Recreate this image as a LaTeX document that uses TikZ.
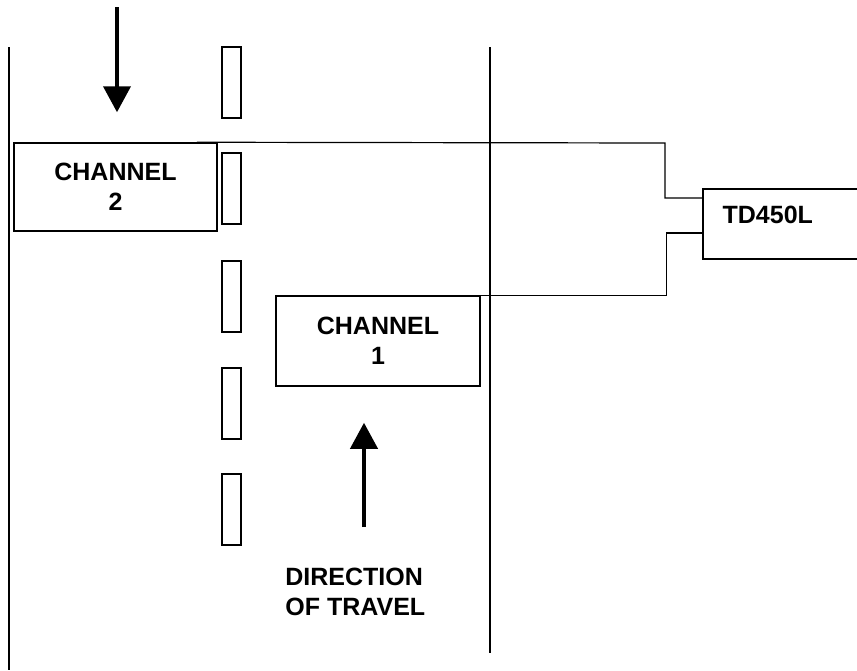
\documentclass[tikz,border=0pt]{standalone}
\usepackage{fontspec}
\setmainfont{Liberation Sans}
\usetikzlibrary{positioning,arrows.meta}

\begin{document}
\begin{tikzpicture}[x=0.5pt,y=-0.5pt,
	chanbox/.style={draw,line width=0.75pt,minimum width=101.5pt,minimum height=44pt,align=center,
		font=\fontsize{12.5}{14.75}\selectfont\bfseries},
	lbl/.style={inner sep=0pt,align=left,font=\fontsize{12.5}{14.75}\selectfont\bfseries},
	bigarrow/.style={line width=2pt,-{Triangle[width=13.5pt,length=13pt]}}]
	\clip (0,0) rectangle (857,670);
% 	road edges
	\draw[line width=1pt] (9,47) -- (9,670);
	\draw[line width=1pt] (490,47) -- (490,653);
% 	lane markings
	\foreach \y in {47,153,261,368,474}
	\draw[line width=0.7pt] (222,\y) rectangle (241,\y+71);
	
	\node[chanbox] (ch2) at (115.5,187) {CHANNEL\\2};
	\node[chanbox,minimum width=102pt,minimum height=45pt] (ch1) at (378,341) {CHANNEL\\1};
	\node[draw,line width=0.75pt,minimum width=83.5pt,minimum height=35pt] (td) at (786.5,224) {};
	\node[lbl,anchor=west] (tdtxt) at ([xshift=10pt,yshift=4.5pt]td.west) {TD450L};
	
	\coordinate (top2) at (117,7);
	\coordinate (tail1) at (364,527);
	\draw[bigarrow] (top2) -- ([yshift=15pt]ch2.north -| top2);
	\draw[bigarrow] (tail1) -- ([yshift=-18pt]ch1.south -| tail1);
	\node[lbl,anchor=west] (dir) at (285,592) {DIRECTION\\OF TRAVEL};
	
	\begin{scope}[line width=0.6pt]
	\draw ([xshift=-10.5pt]ch2.north east) -- (665,143) |- ([yshift=13pt]td.west);
	\draw ([yshift=-4.5pt]td.west) -- ++(-36,0) |- ([xshift=-11.5pt]ch1.north east);
	\end{scope}
\end{tikzpicture}
\end{document}
